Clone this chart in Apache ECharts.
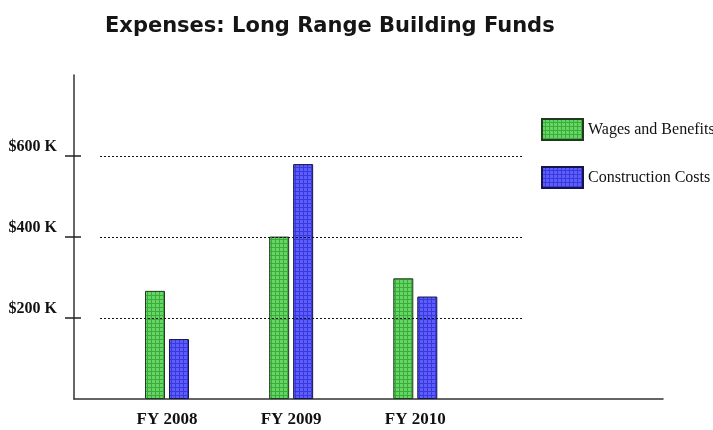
<!DOCTYPE html>
<html>
<head>
<meta charset="utf-8">
<script src="https://cdn.jsdelivr.net/npm/echarts@6/dist/echarts.min.js"></script>
<style>html,body{margin:0;padding:0;background:#fff}#c{width:713px;height:430px}</style>
</head>
<body>
<div id="c"></div>
<script>
// ---- data ----
const categories = ['FY 2008', 'FY 2009', 'FY 2010'];
const wagesAndBenefits = [267, 401, 298];     // $K
const constructionCosts = [148, 580, 253];    // $K
const yTickValues = [200, 400, 600];
const seriesNames = ['Wages and Benefits', 'Construction Costs'];
const titleText = 'Expenses: Long Range Building Funds';

function meshPattern(base, line) {
  const c = document.createElement('canvas');
  c.width = 4; c.height = 4;
  const g = c.getContext('2d');
  g.fillStyle = base; g.fillRect(0, 0, 4, 4);
  g.fillStyle = line; g.fillRect(3, 0, 1, 4); g.fillRect(0, 3, 4, 1);
  return { image: c, repeat: 'repeat' };
}
const greenFill = meshPattern('#62d862', '#3fa83f');
const blueFill = meshPattern('#5c5cff', '#3a3ad8');

const serif = '"Liberation Serif", "DejaVu Serif", serif';

const chart = echarts.init(document.getElementById('c'), null, { renderer: 'canvas' });
chart.setOption({
  animation: false,
  backgroundColor: '#fff',
  title: {
    text: titleText, left: 100, top: 11,
    textStyle: { fontFamily: '"DejaVu Sans", sans-serif', fontWeight: 'bold', fontSize: 21, color: '#151515' }
  },
  legend: {
    orient: 'vertical', left: 536, top: 113,
    itemWidth: 41, itemHeight: 21, itemGap: 25,
    icon: 'rect',
    textStyle: { fontFamily: serif, fontSize: 16, color: '#111' },
    data: seriesNames
  },
  grid: [
    { left: 74, right: 50, top: 75, bottom: 31 },
    { left: 100, right: 191, top: 156, bottom: 112 }
  ],
  xAxis: [
    {
      type: 'value', gridIndex: 0, min: -0.749, max: 3.995,
      splitLine: { show: false },
      axisLine: { show: true, onZero: false, lineStyle: { color: '#333', width: 1.5 } },
      axisTick: { show: false },
      axisLabel: {
        customValues: [0, 1, 2],
        formatter: v => categories[Math.round(v)] || '',
        fontFamily: serif, fontWeight: 'bold', fontSize: 17, color: '#111', margin: 12
      }
    },
    { type: 'value', gridIndex: 1, show: false }
  ],
  yAxis: [
    {
      type: 'value', gridIndex: 0, min: 0, max: 800, interval: 200,
      splitLine: { show: false },
      axisLine: { show: true, onZero: false, lineStyle: { color: '#333', width: 1.5 } },
      axisTick: { show: false },
      axisLabel: {
        customValues: yTickValues,
        formatter: v => '$' + v + ' K',
        fontFamily: serif, fontWeight: 'bold', fontSize: 16, color: '#111',
        margin: 17, verticalAlign: 'bottom', padding: [0, 0, 1, 0]
      }
    },
    {
      type: 'value', gridIndex: 0, min: 0, max: 800, interval: 200, position: 'left', offset: -7,
      splitLine: { show: false }, axisLine: { show: false, onZero: false }, axisLabel: { show: false },
      axisTick: { show: true, customValues: yTickValues, length: 16, lineStyle: { color: '#222', width: 1.5 } }
    },
    {
      type: 'value', gridIndex: 1, min: 200, max: 600, interval: 200, zlevel: 1,
      axisLine: { show: false }, axisTick: { show: false }, axisLabel: { show: false },
      splitLine: { show: true, lineStyle: { color: '#111', type: [2, 2], width: 1 } }
    }
  ],
  series: [
    {
      name: seriesNames[0], type: 'bar', xAxisIndex: 0, yAxisIndex: 0,
      barWidth: 20, barGap: '20%',
      itemStyle: { color: greenFill, borderColor: '#1f3a1f', borderWidth: 1 },
      data: wagesAndBenefits.map((v, i) => [i, v])
    },
    {
      name: seriesNames[1], type: 'bar', xAxisIndex: 0, yAxisIndex: 0,
      barWidth: 20, barGap: '20%',
      itemStyle: { color: blueFill, borderColor: '#15154a', borderWidth: 1 },
      data: constructionCosts.map((v, i) => [i, v])
    }
  ]
});
</script>
</body>
</html>
